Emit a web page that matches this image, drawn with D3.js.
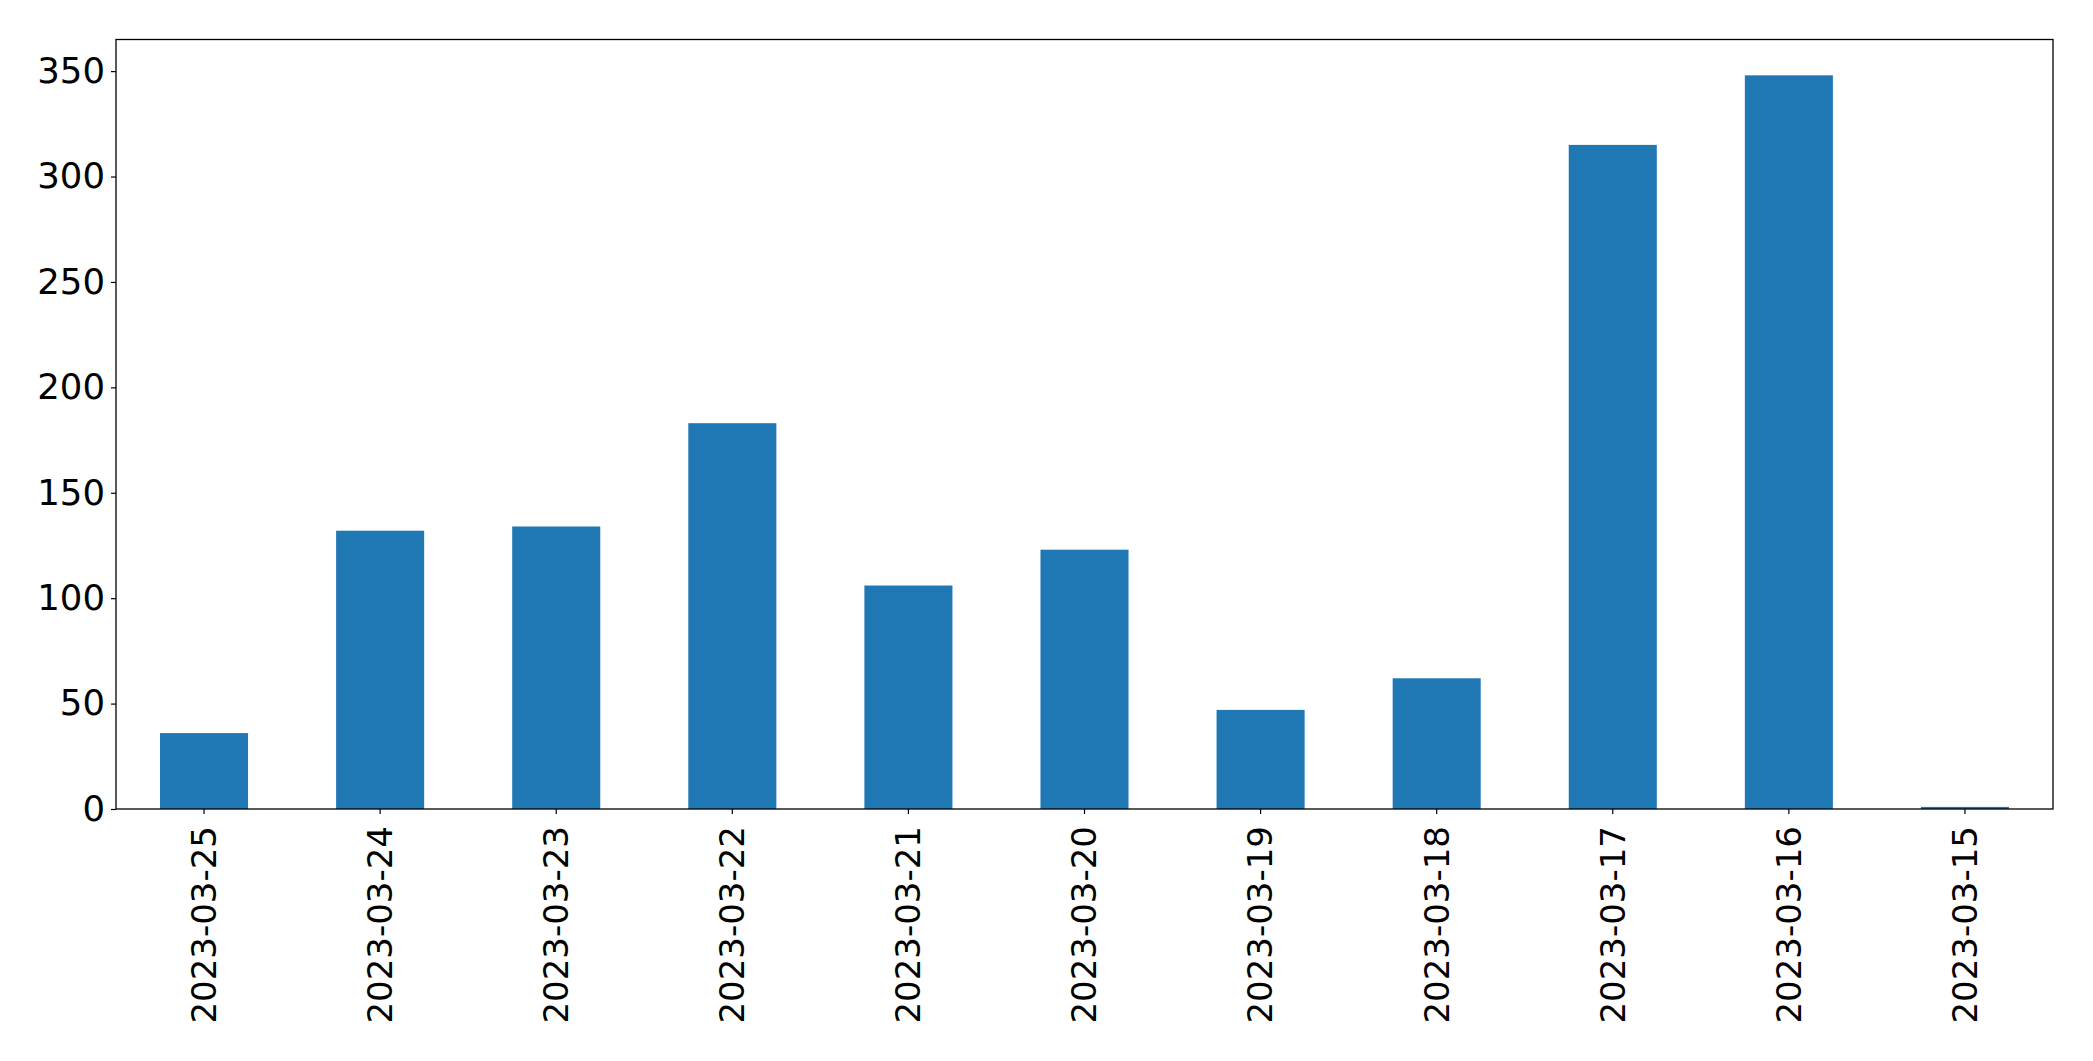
<!DOCTYPE html>
<html>
<head>
<meta charset="utf-8">
<script src="https://cdn.jsdelivr.net/npm/d3@7"></script>
<style>
  html, body { margin: 0; padding: 0; background: #fff; }
  svg { display: block; }
</style>
</head>
<body>
<svg id="chart" width="2093" height="1061"></svg>
<script>
const categories = ["2023-03-25","2023-03-24","2023-03-23","2023-03-22","2023-03-21","2023-03-20","2023-03-19","2023-03-18","2023-03-17","2023-03-16","2023-03-15"];
const values = [36, 132, 134, 183, 106, 123, 47, 62, 315, 348, 1];
const yTicks = [0, 50, 100, 150, 200, 250, 300, 350];

(function () {
const plotLeft = 116, plotRight = 2053, plotTop = 39.5, plotBottom = 809;

const svg = d3.select("#chart");

const x = d3.scaleBand()
  .domain(categories)
  .range([plotLeft, plotRight])
  .paddingInner(0.5)
  .paddingOuter(0.25);

const y = d3.scaleLinear()
  .domain([0, 365])
  .range([plotBottom, plotTop]);

svg.append("g")
  .selectAll("rect")
  .data(values)
  .join("rect")
  .attr("x", (d, i) => x(categories[i]))
  .attr("width", x.bandwidth())
  .attr("y", d => y(d))
  .attr("height", d => y(0) - y(d))
  .attr("fill", "#1f77b4");

const font = "'DejaVu Sans', sans-serif";

const yAxis = svg.append("g")
  .attr("transform", `translate(${plotLeft},0)`)
  .call(d3.axisLeft(y).tickValues(yTicks).tickSize(5).tickPadding(6).tickFormat(d3.format("d")));
yAxis.select(".domain").remove();
yAxis.selectAll("line").attr("stroke", "#000").attr("stroke-width", 1.2);
yAxis.selectAll("text").attr("font-family", font).attr("font-size", 35.5).attr("fill", "#000");

const xAxis = svg.append("g")
  .attr("transform", `translate(0,${plotBottom})`)
  .call(d3.axisBottom(x).tickSize(5).tickPadding(8));
xAxis.select(".domain").remove();
xAxis.selectAll("line").attr("stroke", "#000").attr("stroke-width", 1.2);
xAxis.selectAll("text")
  .attr("font-family", font)
  .attr("font-size", 34)
  .attr("fill", "#000")
  .attr("text-anchor", "end")
  .attr("transform", "rotate(-90)")
  .attr("x", -17)
  .attr("y", 0)
  .attr("dy", "0.35em");

svg.append("rect")
  .attr("x", plotLeft)
  .attr("y", plotTop)
  .attr("width", plotRight - plotLeft)
  .attr("height", plotBottom - plotTop)
  .attr("fill", "none")
  .attr("stroke", "#000")
  .attr("stroke-width", 1.3);
})();
</script>
</body>
</html>
